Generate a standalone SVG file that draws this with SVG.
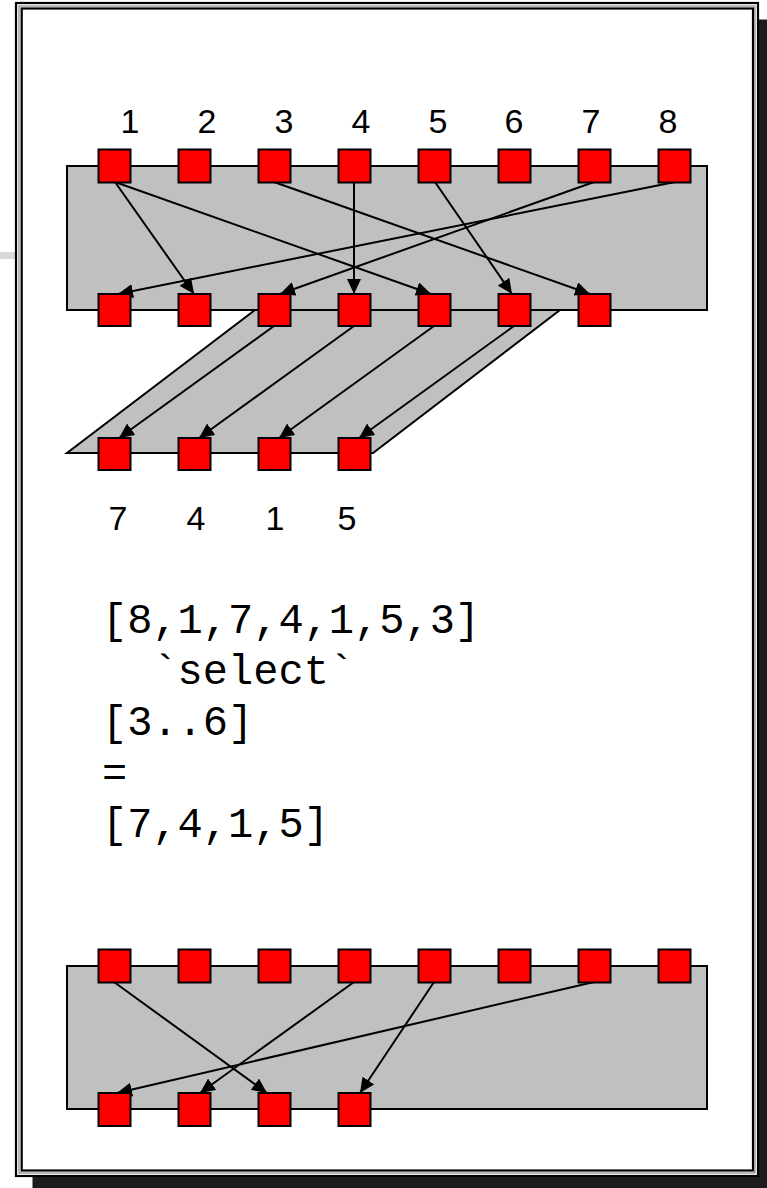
<svg xmlns="http://www.w3.org/2000/svg" width="767" height="1188" viewBox="0 0 767 1188">
  <style>
    .panel { fill: #c0c0c0; stroke: #000; stroke-width: 2; }
    .cell { fill: #ff0000; stroke: #000; stroke-width: 2; }
    .wire { stroke: #000; stroke-width: 2; fill: none; marker-end: url(#head); }
    .idx { font-family: "Liberation Sans", Arial, sans-serif; font-size: 34px; fill: #000; text-anchor: middle; }
    .code { font-family: "Liberation Mono", "Courier New", monospace; font-size: 42px; fill: #000; white-space: pre; }
  </style>
  <defs>
    <marker id="head" markerUnits="userSpaceOnUse" markerWidth="16" markerHeight="14" refX="15" refY="7" orient="auto">
      <path d="M0,0 L15,7 L0,14 Z" fill="#000"/>
    </marker>
  </defs>

  <!-- page background, drop shadow and double frame -->
  <rect x="0" y="0" width="767" height="1188" fill="#fff"/>
  <rect x="0" y="252" width="16" height="7" fill="#d9d9d9"/>
  <rect x="32.5" y="19.5" width="760" height="1200" fill="#1c1c1c" stroke="#8a8a8a" stroke-width="1"/>
  <rect x="16" y="3" width="742" height="1173" fill="#fff" stroke="#000" stroke-width="2.2"/>
  <rect x="19" y="6" width="736" height="1167" fill="none" stroke="#8a8a8a" stroke-width="1.2"/>
  <rect x="21.7" y="8.5" width="731.3" height="1162" fill="none" stroke="#000" stroke-width="2.2"/>

  <!-- panels -->
  <g id="panel-select">
    <polygon class="panel" points="255,310 560,310 373,453 67,453"/>
    <rect class="panel" x="67" y="166" width="640" height="144"/>
  </g>
  <g id="panel-permute">
    <rect class="panel" x="67" y="966" width="640" height="143"/>
  </g>

  <!-- connectors -->
  <g id="connectors">
    <!-- top stage: input positions to output positions -->
    <line class="wire" x1="115" y1="182" x2="194" y2="294"/>
    <line class="wire" x1="115" y1="182" x2="431" y2="294"/>
    <line class="wire" x1="274" y1="182" x2="590" y2="294"/>
    <line class="wire" x1="354" y1="182" x2="354" y2="294"/>
    <line class="wire" x1="435" y1="182" x2="512" y2="294"/>
    <line class="wire" x1="594" y1="182" x2="280" y2="294"/>
    <line class="wire" x1="675" y1="182" x2="118" y2="294"/>
    <!-- slice [3..6] -->
    <line class="wire" x1="274" y1="326" x2="119" y2="438"/>
    <line class="wire" x1="354" y1="326" x2="199" y2="438"/>
    <line class="wire" x1="434" y1="326" x2="279" y2="438"/>
    <line class="wire" x1="514" y1="326" x2="359" y2="438"/>
    <!-- bottom stage -->
    <line class="wire" x1="114" y1="982" x2="267" y2="1093"/>
    <line class="wire" x1="354" y1="982" x2="200" y2="1093"/>
    <line class="wire" x1="434" y1="982" x2="360" y2="1093"/>
    <line class="wire" x1="594" y1="982" x2="117" y2="1093"/>
  </g>

  <!-- top input row -->
  <g id="in-1"><rect class="cell" x="98.5" y="149.5" width="32" height="33"/></g>
  <g id="in-2"><rect class="cell" x="178.5" y="149.5" width="32" height="33"/></g>
  <g id="in-3"><rect class="cell" x="258.5" y="149.5" width="32" height="33"/></g>
  <g id="in-4"><rect class="cell" x="338.5" y="149.5" width="32" height="33"/></g>
  <g id="in-5"><rect class="cell" x="418.5" y="149.5" width="32" height="33"/></g>
  <g id="in-6"><rect class="cell" x="498.5" y="149.5" width="32" height="33"/></g>
  <g id="in-7"><rect class="cell" x="578.5" y="149.5" width="32" height="33"/></g>
  <g id="in-8"><rect class="cell" x="658.5" y="149.5" width="32" height="33"/></g>

  <!-- permuted row -->
  <g id="mid-1"><rect class="cell" x="98.5" y="294" width="32" height="32"/></g>
  <g id="mid-2"><rect class="cell" x="178.5" y="294" width="32" height="32"/></g>
  <g id="mid-3"><rect class="cell" x="258.5" y="294" width="32" height="32"/></g>
  <g id="mid-4"><rect class="cell" x="338.5" y="294" width="32" height="32"/></g>
  <g id="mid-5"><rect class="cell" x="418.5" y="294" width="32" height="32"/></g>
  <g id="mid-6"><rect class="cell" x="498.5" y="294" width="32" height="32"/></g>
  <g id="mid-7"><rect class="cell" x="578.5" y="294" width="32" height="32"/></g>

  <!-- selected slice -->
  <g id="out-1"><rect class="cell" x="98.5" y="438" width="32" height="32"/></g>
  <g id="out-2"><rect class="cell" x="178.5" y="438" width="32" height="32"/></g>
  <g id="out-3"><rect class="cell" x="258.5" y="438" width="32" height="32"/></g>
  <g id="out-4"><rect class="cell" x="338.5" y="438" width="32" height="32"/></g>

  <!-- labels -->
  <g id="index-labels">
    <text class="idx" x="130" y="133">1</text>
    <text class="idx" x="207" y="133">2</text>
    <text class="idx" x="284" y="133">3</text>
    <text class="idx" x="361" y="133">4</text>
    <text class="idx" x="438" y="133">5</text>
    <text class="idx" x="514" y="133">6</text>
    <text class="idx" x="591" y="133">7</text>
    <text class="idx" x="668" y="133">8</text>
  </g>
  <g id="slice-labels">
    <text class="idx" x="118" y="530">7</text>
    <text class="idx" x="196" y="530">4</text>
    <text class="idx" x="275" y="530">1</text>
    <text class="idx" x="347" y="530">5</text>
  </g>

  <!-- expression -->
  <g id="expression">
    <text class="code" x="102" y="633">[8,1,7,4,1,5,3]</text>
    <text class="code" x="102" y="684">  `select`</text>
    <text class="code" x="102" y="735">[3..6]</text>
    <text class="code" x="102" y="786">=</text>
    <text class="code" x="102" y="837">[7,4,1,5]</text>
  </g>

  <!-- bottom stage rows -->
  <g id="b-in-1"><rect class="cell" x="98.5" y="949.5" width="32" height="33"/></g>
  <g id="b-in-2"><rect class="cell" x="178.5" y="949.5" width="32" height="33"/></g>
  <g id="b-in-3"><rect class="cell" x="258.5" y="949.5" width="32" height="33"/></g>
  <g id="b-in-4"><rect class="cell" x="338.5" y="949.5" width="32" height="33"/></g>
  <g id="b-in-5"><rect class="cell" x="418.5" y="949.5" width="32" height="33"/></g>
  <g id="b-in-6"><rect class="cell" x="498.5" y="949.5" width="32" height="33"/></g>
  <g id="b-in-7"><rect class="cell" x="578.5" y="949.5" width="32" height="33"/></g>
  <g id="b-in-8"><rect class="cell" x="658.5" y="949.5" width="32" height="33"/></g>

  <g id="b-out-1"><rect class="cell" x="98.5" y="1093" width="32" height="33"/></g>
  <g id="b-out-2"><rect class="cell" x="178.5" y="1093" width="32" height="33"/></g>
  <g id="b-out-3"><rect class="cell" x="258.5" y="1093" width="32" height="33"/></g>
  <g id="b-out-4"><rect class="cell" x="338.5" y="1093" width="32" height="33"/></g>
</svg>
